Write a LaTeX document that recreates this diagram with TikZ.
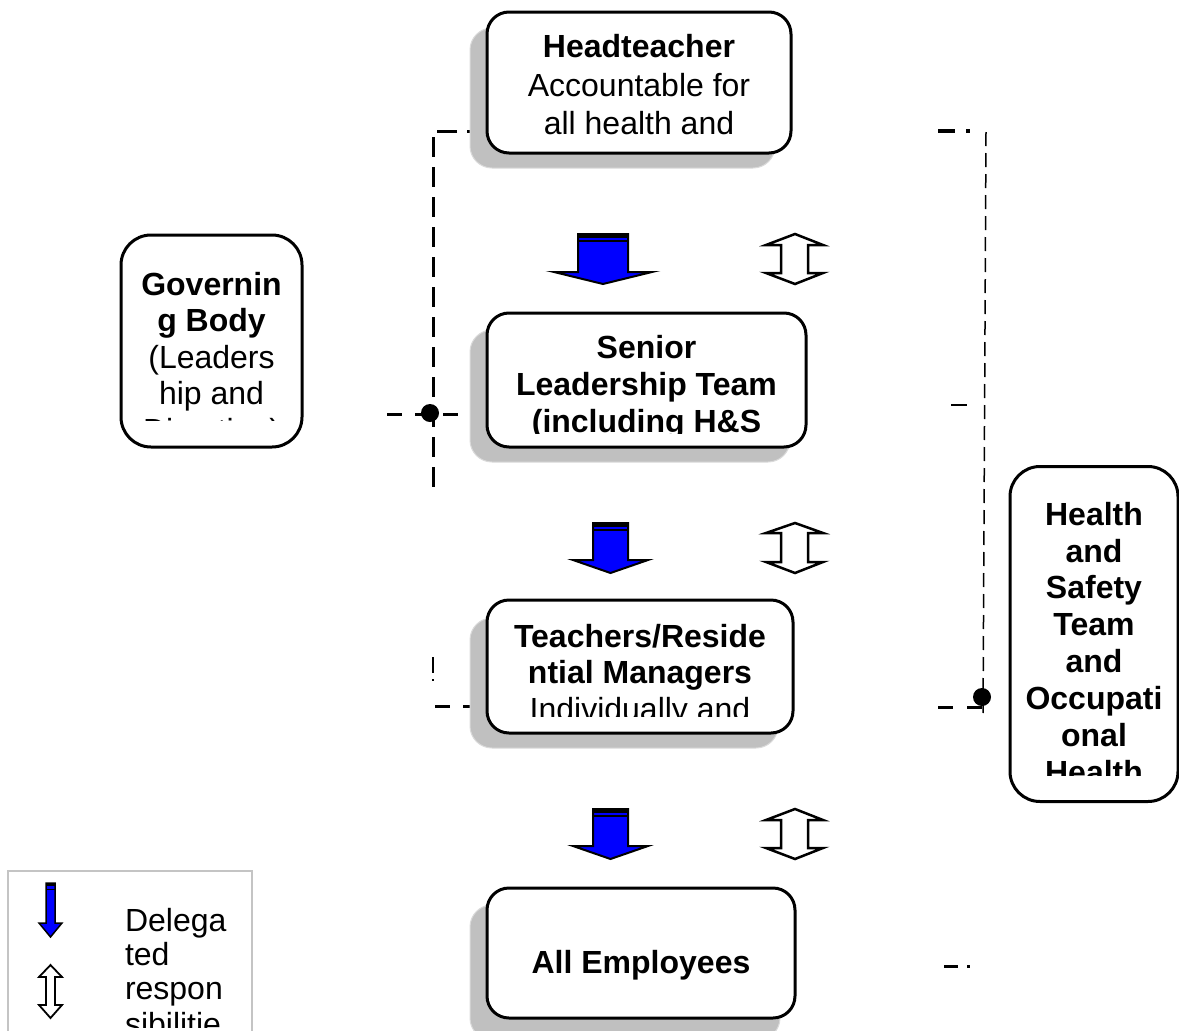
\documentclass[tikz,border=0pt]{standalone}
\usepackage{fontspec}
\setmainfont{Liberation Sans}
\newcommand\bigfont{\fontsize{32}{37}\selectfont}
\definecolor{shadegray}{HTML}{C0C0C0}
\definecolor{shadeedge}{HTML}{DADADA}
\definecolor{legendedge}{HTML}{C4C4C4}
\definecolor{arrowblue}{HTML}{0000FF}
\begin{document}
\begin{tikzpicture}[x=1pt,y=-1pt,
  every node/.style={inner sep=0pt, outer sep=0pt},
  card/.style={draw=black, line width=3pt, fill=white, rounded corners=22pt},
  shadecard/.style={draw=shadeedge, line width=1pt, fill=shadegray, rounded corners=22pt},
  ln/.style={anchor=base, font=\bigfont},
  lb/.style={anchor=base, font=\bigfont\bfseries},
  thickdash/.style={line width=3pt, dash pattern=on 15pt off 13pt},
  longdash/.style={line width=3pt, dash pattern=on 20pt off 10pt},
  thindash/.style={line width=1.5pt, dash pattern=on 14pt off 7pt},
  bluearrow/.style={fill=arrowblue, draw=black, line width=2pt, line join=miter},
  hollowarrow/.style={fill=white, draw=black, line width=2.5pt, line join=miter},
  joint/.style={circle, fill=black, minimum size=18pt}
]
\useasboundingbox (0,0) rectangle (1179,1031);

% ---------- dashed connector lines (behind boxes) ----------
\coordinate (lt) at (433,131);
\coordinate (ltr) at (487,131);
\coordinate (lb) at (433,488);
\coordinate (mla) at (387,414);
\coordinate (mlb) at (470,414);
\draw[longdash] (ltr) -- (lt) -- (lb);
\draw[thickdash] (mla) -- (mlb);
\node[joint] (jl) at (430,413) {};

\coordinate (ta) at (435,706);
\coordinate (tb) at (487,706);
\draw[thickdash] (ta) -- (tb);
\coordinate (xa) at (433,657);
\coordinate (xb) at (433,673);
\draw[line width=2pt] (xa) -- (xb);
\coordinate (xd) at (433,680);
\fill (xd) ++(-1,-1) rectangle ++(2,2);

% right side
\coordinate (rt) at (986,132);
\coordinate (rb) at (983,718);
\draw[thindash] (rt) -- (rb);
\coordinate (rta) at (938,131);
\coordinate (rtb) at (955,131);
\draw[line width=4pt] (rta) -- (rtb);
\coordinate (rtd) at (968,131);
\fill (rtd) ++(-2,-2) rectangle ++(4,4);
\coordinate (rma) at (951,405);
\coordinate (rmb) at (967,405);
\draw[line width=1.5pt] (rma) -- (rmb);
\coordinate (rla) at (938,707);
\coordinate (rlb) at (982,707);
\draw[line width=3pt, dash pattern=on 15pt off 14pt] (rla) -- (rlb);
\node[joint] (jr) at (982,697) {};
\coordinate (rba) at (944,966);
\coordinate (rbb) at (958,966);
\draw[line width=3pt] (rba) -- (rbb);
\coordinate (rbd) at (968,966);
\fill (rbd) ++(-1.5,-1.5) rectangle ++(3,3);

% ---------- shadows ----------
\node[shadecard, minimum width=305pt, minimum height=140pt] (headS) at (622.5,98) {};
\node[shadecard, minimum width=320pt, minimum height=132pt] (sltS) at (630,396) {};
\node[shadecard, minimum width=308pt, minimum height=130pt] (teachS) at (624,683) {};
\node[shadecard, minimum width=310pt, minimum height=135pt] (allS) at (625,972.5) {};

% ---------- boxes ----------
\node[card, minimum width=304pt, minimum height=141pt] (head) at (639,82.5) {};
\node[card, minimum width=319pt, minimum height=134pt] (slt) at (646.5,380) {};
\node[card, minimum width=306pt, minimum height=133pt] (teach) at (640,666.5) {};
\node[card, minimum width=308pt, minimum height=130pt] (allemp) at (641,953) {};
\node[card, rounded corners=30pt, minimum width=181pt, minimum height=212pt] (gov) at (211.5,341) {};
\node[card, rounded corners=30pt, minimum width=168pt, minimum height=335pt] (hs) at (1094,634) {};

% ---------- texts ----------
\node[lb] (h1) at (639,57) {Headteacher};
\node[ln] (h2) at (639,96) {Accountable for};
\node[ln] (h3) at (639,134) {all health and};

\begin{scope}
\clip (490,316) rectangle (803,433);
\node[lb] (s1) at (646.5,358) {Senior};
\node[lb] (s2) at (646.5,395) {Leadership Team};
\node[lb] (s3) at (646.5,432) {(including H\&S};
\end{scope}

\begin{scope}
\clip (490,603) rectangle (790,716);
\node[lb] (t1) at (640,647) {Teachers/Reside};
\node[lb] (t2) at (640,683) {ntial Managers};
\node[ln] (t3) at (640,720) {Individually and};
\end{scope}

\node[lb] (a1) at (641,973) {All Employees};

\begin{scope}
\clip (124,238) rectangle (299,420);
\node[lb] (g1) at (211.5,295) {Governin};
\node[lb] (g2) at (211.5,331) {g Body};
\node[ln] (g3) at (211.5,368) {(Leaders};
\node[ln] (g4) at (211.5,404) {hip and};
\node[ln] (g5) at (211.5,441) {Direction)};
\end{scope}

\begin{scope}
\clip (1013,470) rectangle (1176,775);
\node[lb] (k1) at (1094,525) {Health};
\node[lb] (k2) at (1094,562) {and};
\node[lb] (k3) at (1094,598) {Safety};
\node[lb] (k4) at (1094,635) {Team};
\node[lb] (k5) at (1094,672) {and};
\node[lb] (k6) at (1094,709) {Occupati};
\node[lb] (k7) at (1094,746) {onal};
\node[lb] (k8) at (1094,783) {Health};
\end{scope}

% ---------- block arrows ----------
\draw[bluearrow] (578,234) -- (628,234) -- (628,272) -- (652,272) -- (603,284) -- (554,272) -- (578,272) -- cycle;
\fill (578,234) rectangle (628,238);
\draw[line width=2pt] (578,241) -- (628,241);
\draw[bluearrow] (593,523) -- (628,523) -- (628,560) -- (648,560) -- (610.5,573) -- (573,560) -- (593,560) -- cycle;
\fill (593,523) rectangle (628,527);
\draw[line width=2pt] (593,530) -- (628,530);
\draw[bluearrow] (593,809) -- (628,809) -- (628,846) -- (648,846) -- (610.5,859) -- (573,846) -- (593,846) -- cycle;
\fill (593,809) rectangle (628,813);
\draw[line width=2pt] (593,816) -- (628,816);

\draw[hollowarrow] (795,234) -- (823,245) -- (808,245) -- (808,273) -- (823,273) -- (795,284) -- (766,273) -- (781,273) -- (781,245) -- (766,245) -- cycle;
\draw[hollowarrow] (795,523) -- (823,533) -- (808,533) -- (808,562) -- (823,562) -- (795,573) -- (766,562) -- (781,562) -- (781,533) -- (766,533) -- cycle;
\draw[hollowarrow] (795,809) -- (823,820) -- (808,820) -- (808,848) -- (823,848) -- (795,859) -- (766,848) -- (781,848) -- (781,820) -- (766,820) -- cycle;

% ---------- legend ----------
\draw[draw=legendedge, line width=1.5pt] (8,1040) -- (8,871) -- (252,871) -- (252,1040);
\draw[bluearrow, line width=1.5pt] (46,883) -- (55,883) -- (55,923) -- (62,923) -- (50.5,937) -- (39,923) -- (46,923) -- cycle;
\fill (46,883) rectangle (55,886);
\draw[line width=1pt] (46,889) -- (55,889);
\draw[hollowarrow, line width=1.8pt] (50.5,965) -- (62,977) -- (55,977) -- (55,1005) -- (62,1005) -- (50.5,1018) -- (39,1005) -- (46,1005) -- (46,977) -- (39,977) -- cycle;
\begin{scope}
\clip (100,880) rectangle (250,1027);
\node[ln, anchor=base west] (e1) at (125,931) {Delega};
\node[ln, anchor=base west] (e2) at (125,965) {ted};
\node[ln, anchor=base west] (e3) at (125,999) {respon};
\node[ln, anchor=base west] (e4) at (125,1035) {sibilitie};
\end{scope}
\end{tikzpicture}
\end{document}
